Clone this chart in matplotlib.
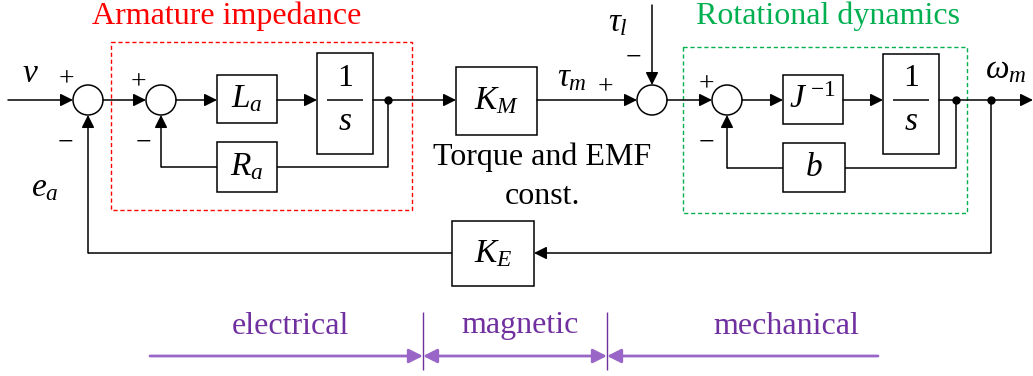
import matplotlib
matplotlib.use("Agg")
import matplotlib.pyplot as plt
from matplotlib.patches import Rectangle, Circle

plt.rcParams['font.family'] = ['Liberation Serif', 'DejaVu Serif']
plt.rcParams['mathtext.fontset'] = 'custom'
plt.rcParams['mathtext.rm'] = 'Liberation Serif'
plt.rcParams['mathtext.it'] = 'Liberation Serif:italic'

# labels of the diagram
group_titles = ["Armature impedance", "Rotational dynamics"]
group_colors = ["#FF0000", "#00B050"]
block_labels = [r"$L_a$", r"$R_a$", r"$K_M$", r"$J^{\;\mathrm{-1}}$", r"$b$", r"$K_E$"]
signal_labels = [r"$v$", r"$e_a$", r"$\tau_m$", r"$\tau_l$", r"$\omega_m$"]
const_note = ["Torque and EMF", "const."]
domains = ["electrical", "magnetic", "mechanical"]

purple_txt = "#7030A0"
purple_line = "#9966C8"
LW = 1.1

fig = plt.figure(figsize=(10.33, 3.76), dpi=100)
ax = fig.add_axes([0, 0, 1, 1])
ax.set_xlim(0, 1033)
ax.set_ylim(376, 0)
ax.axis('off')


def arrow(x0, y0, x1, y1, color='black', lw=LW, ms=19, style='-|>'):
    ax.annotate("", xy=(x1, y1), xytext=(x0, y0),
                arrowprops=dict(arrowstyle=style, mutation_scale=ms, lw=lw,
                                color=color, shrinkA=0, shrinkB=0))


def line(xs, ys, color='black', lw=LW):
    ax.plot(xs, ys, color=color, lw=lw, solid_capstyle='butt')


def block(x0, x1, y0, y1, label=None):
    ax.add_patch(Rectangle((x0, y0), x1 - x0, y1 - y0, fill=False, lw=LW, ec='black'))
    if label is not None:
        ax.text((x0 + x1) / 2, (y0 + y1) / 2, label, ha='center', va='center', fontsize=24)


def integrator(x0, x1, y0, y1):
    block(x0, x1, y0, y1)
    cx = (x0 + x1) / 2
    ax.text(cx, 79, "1", ha='center', va='center', fontsize=23)
    line([cx - 18, cx + 18], [100, 100])
    ax.text(cx, 122, r"$s$", ha='center', va='center', fontsize=24)


def summer(cx, cy=100, r=15):
    ax.add_patch(Circle((cx, cy), r, fill=False, lw=LW, ec='black'))


def dot(x, y=100):
    ax.plot(x, y, 'o', color='black', ms=5)


def sign(x, y, s):
    ax.text(x, y, s, ha='center', va='center', fontsize=20)


y = 100
# group boxes and titles
ax.add_patch(Rectangle((111, 42), 301, 168, fill=False, ls=(0, (3, 2)), lw=1.0, ec=group_colors[0]))
ax.add_patch(Rectangle((683, 47), 284, 166, fill=False, ls=(0, (3, 2)), lw=1.0, ec=group_colors[1]))
ax.text(227, 16, group_titles[0], color=group_colors[0], ha='center', va='center', fontsize=23)
ax.text(828, 16, group_titles[1], color=group_colors[1], ha='center', va='center', fontsize=23)

# electrical part
summer(88)
summer(161)
block(217, 277, 75, 123, block_labels[0])
integrator(317, 373, 53, 154)
block(217, 277, 142, 192, block_labels[1])
arrow(8, y, 73, y)
arrow(103, y, 146, y)
arrow(176, y, 217, y)
arrow(277, y, 317, y)
arrow(373, y, 456, y)
dot(388)
line([388, 388, 277], [y, 167, 167])
line([217, 161], [167, 167])
arrow(161, 167, 161, 115)
sign(66, 80, "+")
sign(65, 143, "\u2212")
sign(138, 83, "+")
sign(143, 143, "\u2212")
ax.text(30, 74, signal_labels[0], ha='center', va='center', fontsize=24)
ax.text(45, 188, signal_labels[1], ha='center', va='center', fontsize=24)

# torque constant
block(456, 537, 67, 135, block_labels[2])
arrow(537, y, 637, y)
summer(652)
arrow(652, 5, 652, 85)
ax.text(572, 78, signal_labels[2], ha='center', va='center', fontsize=24)
ax.text(618, 23, signal_labels[3], ha='center', va='center', fontsize=24)
sign(605, 88, "+")
sign(633, 58, "\u2212")
ax.text(542, 157, const_note[0], ha='center', va='center', fontsize=23)
ax.text(542, 196, const_note[1], ha='center', va='center', fontsize=23)

# mechanical part
arrow(667, y, 712, y)
summer(727)
block(783, 843, 75, 124, block_labels[3])
integrator(883, 939, 54, 154)
block(783, 845, 143, 192, block_labels[4])
arrow(742, y, 783, y)
arrow(843, y, 883, y)
arrow(939, y, 1033, y)
dot(956)
dot(991)
line([956, 956, 845], [y, 168, 168])
line([783, 727], [168, 168])
arrow(727, 168, 727, 115)
sign(706, 85, "+")
sign(706, 143, "\u2212")
ax.text(1006, 70, signal_labels[4], ha='center', va='center', fontsize=24)

# back-EMF feedback
block(452, 534, 221, 286, block_labels[5])
line([991, 991], [y, 253])
arrow(991, 253, 534, 253)
line([452, 88], [253, 253])
arrow(88, 253, 88, 115)

# domain ranges
for xd in [423, 607]:
    line([xd, xd], [312, 370], color=purple_txt, lw=1.0)
arrow(150, 356, 423, 356, color=purple_line, lw=2.0, ms=21)
arrow(423, 356, 607, 356, color=purple_line, lw=2.0, ms=21, style='<|-|>')
arrow(878, 356, 607, 356, color=purple_line, lw=2.0, ms=21)
for name, xc in zip(domains, [290, 520, 786]):
    ax.text(xc, 326, name, color=purple_txt, ha='center', va='center', fontsize=23)

plt.savefig("out.png", dpi=100)
